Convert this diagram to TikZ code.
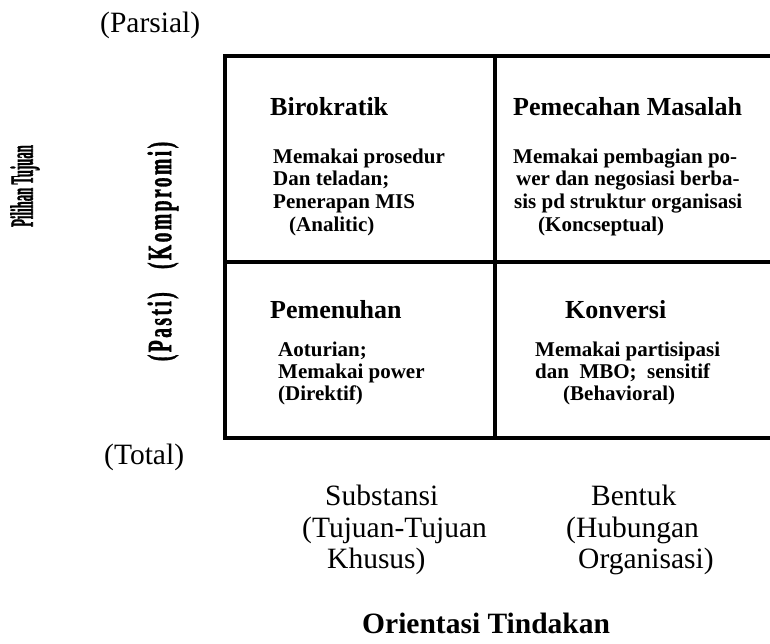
\documentclass[tikz,border=0pt]{standalone}
\usepackage{fontspec}
\setmainfont{Liberation Serif}
\usepackage{graphicx}
\begin{document}
\begin{tikzpicture}[x=1pt,y=-1pt,
  head/.style={anchor=base west, inner sep=0pt, font=\fontsize{26}{26}\selectfont\bfseries},
  body/.style={anchor=base west, inner sep=0pt, font=\fontsize{21}{21}\selectfont\bfseries},
  axislabel/.style={anchor=base west, inner sep=0pt, font=\fontsize{29.5}{29.5}\selectfont},
  sidelabel/.style={rotate=90, inner sep=0pt, font=\fontsize{32}{32}\selectfont\bfseries\addfontfeature{FakeBold=2}},
  frame/.style={line width=4pt, line join=miter}]
\useasboundingbox (0,0) rectangle (770,644);

% grid of the four quadrants (open to the right)
\draw[frame] (772,56.5) -- (225,56.5) -- (225,437.5) -- (772,437.5);
\draw[frame] (495,56.5) -- (495,437.5);
\draw[frame] (225,262) -- (772,262);

% vertical axis
\node[axislabel] (parsial) at (100,33) {(Parsial)};
\node[axislabel] (total) at (104,464) {(Total)};
\node[sidelabel] (pilihan) at (25,186) {\scalebox{0.40}[1]{Pilihan Tujuan}};
\node[sidelabel, font=\fontsize{34}{34}\selectfont\bfseries\addfontfeature{FakeBold=1.5}] (pasti) at (163,251.5)
  {\scalebox{0.58}[1]{\addfontfeature{LetterSpace=12}(Pasti)\hspace{40pt}(Kompromi)}};

% upper left
\node[head] (birokratik) at (270,116) {Birokratik};
\node[body] (b1) at (273,164) {Memakai prosedur};
\node[body] (b2) at (273,186) {Dan teladan;};
\node[body] (b3) at (273,208.5) {Penerapan MIS};
\node[body] (b4) at (289,231) {(Analitic)};

% upper right
\node[head] (pemecahan) at (513,116) {Pemecahan Masalah};
\node[body] (p1) at (513,164) {Memakai pembagian po-};
\node[body] (p2) at (516,186) {wer dan negosiasi berba-};
\node[body] (p3) at (514,208.5) {sis pd struktur organisasi};
\node[body] (p4) at (538,231) {(Koncseptual)};

% lower left
\node[head] (pemenuhan) at (270,318) {Pemenuhan};
\node[body] (m1) at (278,356) {Aoturian;};
\node[body] (m2) at (278,378) {Memakai power};
\node[body] (m3) at (278,400) {(Direktif)};

% lower right
\node[head] (konversi) at (565,318) {Konversi};
\node[body] (k1) at (535,356) {Memakai partisipasi};
\node[body] (k2) at (535,378) {dan\ \ MBO;\ \ sensitif};
\node[body] (k3) at (563,400) {(Behavioral)};

% horizontal axis
\node[axislabel] (substansi) at (325,505) {Substansi};
\node[axislabel] (tujuan) at (302,537) {(Tujuan-Tujuan};
\node[axislabel] (khusus) at (327,568) {Khusus)};
\node[axislabel] (bentuk) at (591,505) {Bentuk};
\node[axislabel] (hubungan) at (566,537) {(Hubungan};
\node[axislabel] (organisasi) at (578,568) {Organisasi)};
\node[axislabel, font=\fontsize{29.5}{29.5}\selectfont\bfseries] (orientasi) at (362,633) {Orientasi Tindakan};
\end{tikzpicture}
\end{document}
